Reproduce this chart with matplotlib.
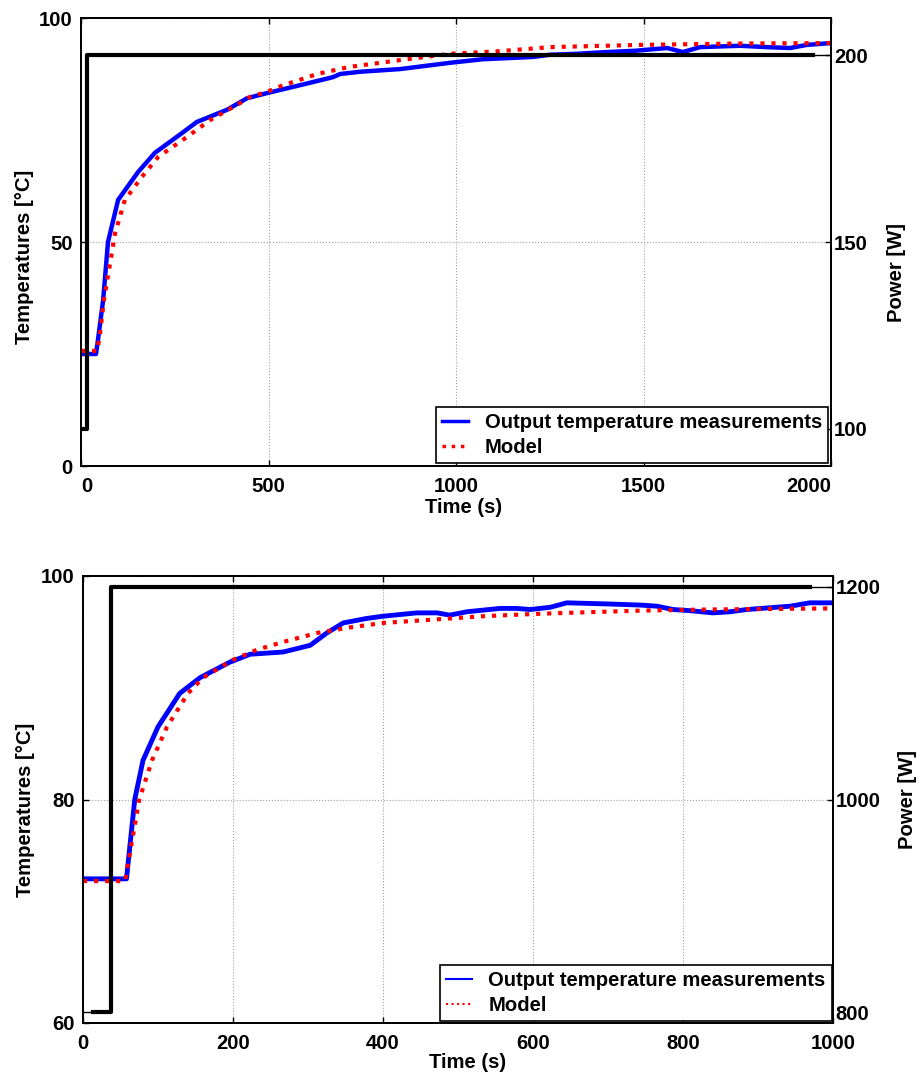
import numpy as np
import matplotlib
matplotlib.use("Agg")
import matplotlib.pyplot as plt

plt.rcParams['font.family'] = ['Liberation Sans', 'DejaVu Sans']
plt.rcParams['font.weight'] = 'bold'
FS = 14.6

# ---- top experiment (200 W step) ----
top_meas_t = [0, 40, 45, 59, 72, 99, 152, 197, 269, 309, 389, 443, 499, 584, 672, 691, 744,
              851, 984, 1072, 1205, 1251, 1320, 1403, 1480, 1563, 1605, 1651, 1757, 1829,
              1891, 1936, 2000]
top_meas_T = [25, 25, 28, 37, 50, 59.4, 65.6, 69.9, 74.3, 76.8, 79.5, 82.1, 83.3, 85.0, 86.8,
              87.5, 88.0, 88.6, 90.0, 90.8, 91.3, 91.8, 92.0, 92.4, 92.7, 93.3, 92.4, 93.5,
              93.8, 93.5, 93.3, 94.0, 94.4]
top_model_t = [0, 43, 50, 61, 91, 117, 162, 206, 282, 344, 424, 451, 496, 539, 584, 629, 717,
               851, 984, 1117, 1251, 1491, 1750, 2000]
top_model_T = [25.7, 25.7, 29, 37, 52, 59.4, 64.5, 69.0, 73.4, 77.2, 81.0, 82.4, 83.5, 85.0,
               86.2, 87.5, 89.1, 90.6, 92.0, 92.6, 93.5, 94.0, 94.3, 94.4]
top_power_t = [0, 16, 16, 1952]
top_power_W = [100, 100, 200, 200]
top_power_end = 2000

# ---- bottom experiment (1200 W step) ----
bot_meas_t = [0, 58, 62, 69, 80, 100, 129, 156, 196, 223, 267, 303, 325, 347, 378, 400, 445,
              472, 489, 512, 556, 578, 596, 623, 645, 699, 743, 765, 787, 809, 840, 863, 885,
              943, 969, 1000]
bot_meas_T = [72.9, 72.9, 75.5, 80.0, 83.5, 86.5, 89.5, 90.9, 92.3, 93.0, 93.2, 93.8, 94.9,
              95.8, 96.2, 96.4, 96.7, 96.7, 96.5, 96.8, 97.1, 97.1, 97.0, 97.2, 97.6, 97.5,
              97.4, 97.3, 97.0, 96.9, 96.7, 96.8, 97.0, 97.3, 97.6, 97.6]
bot_model_t = [0, 56, 62, 75, 92, 112, 140, 160, 200, 232, 267, 312, 356, 400, 445, 489, 533,
               600, 645, 743, 832, 1000]
bot_model_T = [72.7, 72.7, 75.0, 80.0, 83.5, 86.5, 89.5, 90.9, 92.5, 93.4, 94.1, 94.9, 95.4,
               95.8, 96.0, 96.2, 96.4, 96.6, 96.7, 96.9, 97.0, 97.1]
bot_power_t = [13, 37, 37, 969]
bot_power_W = [800, 800, 1200, 1200]
bot_power_start = 0
bot_power_end = 1000


def draw_panel(ax, meas, model, power, thin_power, xlim, xticks, ylim, yticks, plim, pticks,
               meas_lw, leg_lw, ylab_pos, plab_pos, xlab_pos, shift_edge_labels, leg_box):
    ax.plot(meas[0], meas[1], color='#0000ff', lw=meas_lw, solid_joinstyle='round')
    ax.plot(model[0], model[1], color='#ff0000', lw=3, ls=':')
    ax.set_xlim(xlim)
    ax.set_ylim(ylim)
    ax.set_xticks(xticks)
    ax.set_yticks(yticks)
    ax.grid(True, ls=':', color='#a0a0a0', lw=0.8)
    ax.tick_params(direction='in', length=4, width=1, top=True, right=False, pad=6,
                   labelsize=FS)
    ax.tick_params(axis='x', pad=8)
    for s in ax.spines.values():
        s.set_linewidth(1.3)
    ax.set_ylabel('Temperatures [°C]', fontsize=FS, fontweight='bold')
    ax.yaxis.set_label_coords(*ylab_pos)
    ax.set_xlabel('Time (s)', fontsize=FS, fontweight='bold')
    ax.xaxis.set_label_coords(*xlab_pos)

    ax2 = ax.twinx()
    ax2.plot(thin_power[0], thin_power[1], color='black', lw=1)
    ax2.plot(power[0], power[1], color='black', lw=3)
    ax2.set_ylim(plim)
    ax2.set_yticks(pticks)
    ax2.tick_params(direction='in', length=4, width=1, pad=2, labelsize=FS)
    for s in ax2.spines.values():
        s.set_linewidth(1.3)
    ax2.set_ylabel('Power [W]', fontsize=FS, fontweight='bold')
    ax2.yaxis.set_label_coords(*plab_pos)
    ax2.set_xlim(xlim)

    if shift_edge_labels:
        labs = ax.get_xticklabels()
        labs[0].set_ha('left')
        labs[-1].set_ha('right')

    h = [plt.Line2D([], [], color='#0000ff', lw=leg_lw),
         plt.Line2D([], [], color='#ff0000', lw=leg_lw, ls=':')]
    leg = ax2.legend(h, ['Output temperature measurements', 'Model'], loc='lower right',
                     bbox_to_anchor=leg_box, fancybox=False, framealpha=1,
                     edgecolor='black', handlelength=1.3, handletextpad=0.8,
                     borderpad=0.3, labelspacing=0.3, borderaxespad=0,
                     prop={'weight': 'bold', 'size': FS})
    leg.get_frame().set_linewidth(1.2)
    return ax2


fig = plt.figure(figsize=(9.22, 10.75), dpi=100)
ax_top = fig.add_axes([81 / 922, 1 - 466 / 1075, 750 / 922, 448 / 1075])
ax_bot = fig.add_axes([83 / 922, 1 - 1023 / 1075, 750 / 922, 447 / 1075])

draw_panel(ax_top, (top_meas_t, top_meas_T), (top_model_t, top_model_T),
           (top_power_t, top_power_W),
           (top_power_t + [top_power_end], top_power_W + [top_power_W[-1]]),
           (0, 2000), [0, 500, 1000, 1500, 2000], (0, 100), [0, 50, 100],
           (90, 210), [100, 150, 200], 3.2, 2.5,
           (-0.063, 0.467), (1.075, 0.433), (0.51, -0.071), True, (0.996, 0.007))

draw_panel(ax_bot, (bot_meas_t, bot_meas_T), (bot_model_t, bot_model_T),
           (bot_power_t, bot_power_W),
           ([bot_power_start] + bot_power_t + [bot_power_end],
            [bot_power_W[0]] + bot_power_W + [bot_power_W[-1]]),
           (0, 1000), [0, 200, 400, 600, 800, 1000], (60, 100), [60, 80, 100],
           (790, 1210), [800, 1000, 1200], 3.5, 1.5,
           (-0.064, 0.477), (1.087, 0.499), (0.513, -0.067), False, (0.998, 0.004))

fig.savefig('out.png', dpi=100)
